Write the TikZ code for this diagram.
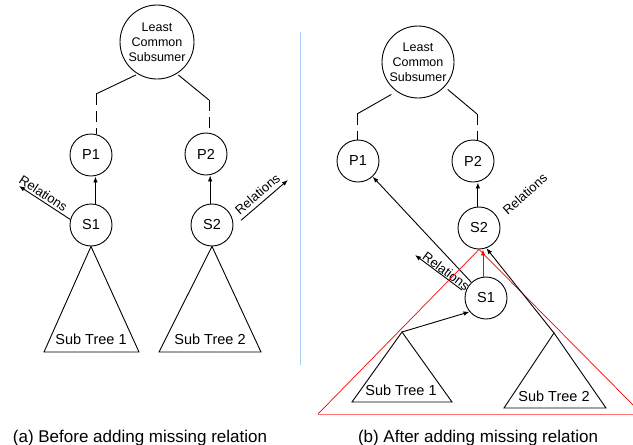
\documentclass[tikz,border=0pt]{standalone}
\usepackage{fontspec}
\setmainfont{Liberation Sans}
\usetikzlibrary{arrows.meta,calc}
\definecolor{divblue}{RGB}{170,205,245}
\tikzset{
  circ/.style={draw, circle, minimum size=42pt, inner sep=0pt, line width=0.9pt, font=\fontsize{14.5}{16}\selectfont},
  lcs/.style={draw, circle, minimum size=74pt, inner sep=0pt, line width=0.9pt, align=center, font=\fontsize{12.5}{15}\selectfont},
  edge/.style={line width=0.9pt},
  dashedge/.style={line width=0.9pt, dash pattern=on 11pt off 6pt},
  arr/.style={line width=0.9pt, -{Latex[length=6pt,width=4.5pt]}},
  reltxt/.style={font=\fontsize{13}{15}\selectfont, inner sep=1pt},
  treetxt/.style={font=\fontsize{14.5}{16}\selectfont, anchor=base, inner sep=0pt},
  treeline/.style={line width=0.9pt},
  redline/.style={red, line width=0.7pt},
  captxt/.style={font=\fontsize{17}{20}\selectfont, anchor=base, inner sep=0pt}
}
\begin{document}
\begin{tikzpicture}[x=1pt,y=-1pt]
\clip (0,0) rectangle (633,445);
% ---------------- left panel ----------------
\node[lcs] (L1) at (157,42) {Least\\Common\\Subsumer};
\node[circ] (P1a) at (91,155) {P1};
\node[circ] (S1a) at (91,225) {S1};
\node[circ] (P2a) at (206,154) {P2};
\node[circ] (S2a) at (212,225) {S2};
\coordinate (c1) at (96,94);
\coordinate (c2) at (209,100);
\draw[edge, shorten <=2pt] (L1.239.5) -- (c1);
\draw[dashedge] (c1) -- (c1 |- P1a.north);
\draw[edge, shorten <=2pt] (L1.-58) -- (c2);
\draw[dashedge] (c2) -- (c2 |- P2a.north);
\draw[arr] (S1a.78) -- (S1a.78 |- P1a.south);
\draw[arr] (S2a.95) -- (S2a.95 |- P2a.south);
\coordinate (r1) at (19,186);
\draw[arr] (S1a.165) -- (r1) node[reltxt, pos=0.6, sloped, above, inner sep=2pt] {Relations};
\coordinate (r2) at (288,180);
\draw[arr, shorten <=10pt] (S2a.-5) -- (r2) node[reltxt, pos=0.55, sloped, above, inner sep=4pt] {Relations};
\coordinate (t1l) at (44,352);
\coordinate (t1r) at (139,352);
\draw[treeline] (S1a.south) -- (t1r) -- (t1l) -- cycle;
\node[treetxt] (st1a) at (91,344) {Sub Tree 1};
\coordinate (t2l) at (159,352);
\coordinate (t2r) at (261,352);
\draw[treeline] (S2a.south) -- (t2r) -- (t2l) -- cycle;
\node[treetxt] (st2a) at (210,344) {Sub Tree 2};
\node[captxt] (capa) at (140,442) {(a) Before adding missing relation};
% ---------------- divider ----------------
\draw[divblue, line width=0.9pt] (300,32) -- (300,365);
% ---------------- right panel ----------------
\node[lcs, minimum size=72pt] (L2) at (418,62) {Least\\Common\\Subsumer};
\node[circ] (P1b) at (358,161) {P1};
\node[circ] (P2b) at (473,161) {P2};
\node[circ] (S2b) at (479,228) {S2};
\node[circ] (S1b) at (486,298) {S1};
\coordinate (c3) at (357,114);
\coordinate (c4) at (477,114);
\draw[edge, shorten <=6pt] (L2.-126) -- (c3);
\draw[dashedge] (c3) -- (c3 |- P1b.north);
\draw[edge, shorten <=4pt] (L2.-43) -- (c4);
\draw[dashedge] (c4) -- (c4 |- P2b.north);
\draw[arr] (S2b.93) -- (S2b.93 |- P2b.south);
\node[reltxt, rotate=42] (rel4) at (525,194) {Relations};
\draw[arr] (S1b) -- (P1b);
\draw[arr, red] (S1b.98) -- (S1b.98 |- S2b.south);
\coordinate (r3) at (415,255);
\draw[arr, shorten <=4pt] (S1b.165) -- (r3) node[reltxt, pos=0.45, sloped, above, inner sep=0.5pt] {Relations};
% red triangle
\coordinate (rtl) at (318,414);
\coordinate (rtr) at (642,414);
\draw[redline] (S2b.south) -- (rtl);
\draw[redline] (S2b.south) -- (rtr);
\draw[red!55, line width=0.9pt] (rtl) -- (rtr);
% sub trees
\coordinate (t3a) at (402,332);
\coordinate (t3l) at (352,402);
\coordinate (t3r) at (452,402);
\draw[treeline] (t3a) -- (t3r) -- (t3l) -- cycle;
\node[treetxt] (st1b) at (401,395) {Sub Tree 1};
\coordinate (t4a) at (554,333);
\coordinate (t4l) at (504,408);
\coordinate (t4r) at (606,408);
\draw[treeline] (t4a) -- (t4r) -- (t4l) -- cycle;
\node[treetxt] (st2b) at (554,401) {Sub Tree 2};
\draw[arr] (t3a) -- (S1b.220);
\draw[arr] (t4a) -- (S2b.-70);
\node[captxt] (capb) at (478,442) {(b) After adding missing relation};
\end{tikzpicture}
\end{document}
